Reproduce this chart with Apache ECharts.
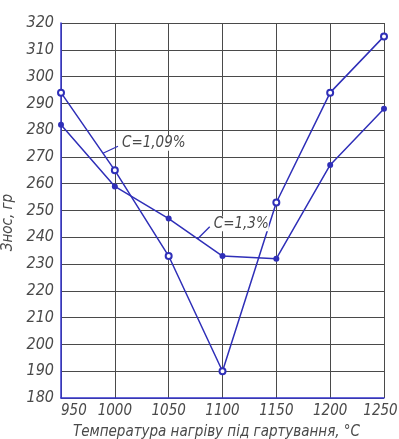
<!DOCTYPE html>
<html>
<head>
<meta charset="utf-8">
<script src="https://cdn.jsdelivr.net/npm/echarts@6/dist/echarts.min.js"></script>
<style>
  html, body { margin: 0; padding: 0; background: #fff; }
  #chart { width: 399px; height: 439px; }
</style>
</head>
<body>
<div id="chart"></div>
<script>
// Hardening temperature, °C
const temperatures = [950, 1000, 1050, 1100, 1150, 1200, 1250];
// Wear, g — steel with C = 1,09 %
const wear109 = [294, 265, 233, 190, 253, 294, 315];
// Wear, g — steel with C = 1,3 %
const wear13 = [282, 259, 247, 233, 232, 267, 288];

const seriesNames = ['C=1,09%', 'C=1,3%'];
const xTitle = 'Температура нагріву під гартування, °C';
const yTitle = 'Знос, гр';

const FONT = "'DejaVu Sans', sans-serif";
// font-stretch keyword goes into the canvas font shorthand via fontWeight
const STRETCH = 'condensed';
const BLUE = '#2f2fb8';
const AXIS_BLUE = '#3434d0';
const GRID = '#4a4a4a';
const TEXT = '#4a4a4a';

function txt(size) {
  return { fontFamily: FONT, fontStyle: 'italic', fontWeight: STRETCH, fontSize: size, color: TEXT };
}

const chart = echarts.init(document.getElementById('chart'));

function pairs(xs, ys) { return xs.map((x, i) => [x, ys[i]]); }

const xMax = temperatures[temperatures.length - 1];

chart.setOption({
  animation: false,
  grid: { left: 61, right: 15, top: 23, bottom: 41, outerBoundsMode: 'none', containLabel: false },
  xAxis: {
    type: 'value', min: 950, max: 1250, interval: 50,
    name: xTitle, nameLocation: 'middle', nameGap: 27,
    nameTextStyle: Object.assign(txt(15), { padding: [0, 12, 0, 0] }),
    axisLine: { show: true, lineStyle: { color: AXIS_BLUE, width: 1.5 } },
    axisTick: { show: false },
    axisLabel: Object.assign(txt(15), {
      margin: 6, showMinLabel: true, showMaxLabel: true, hideOverlap: false,
      alignMinLabel: 'left',
      // a small trailing spacer nudges the last label left, inside the page
      formatter: v => (v === xMax ? '{v|' + v + '}{sp| }' : '{v|' + v + '}'),
      rich: { v: txt(15), sp: { width: 7, fontSize: 15 } }
    }),
    splitLine: { show: true, lineStyle: { color: GRID, width: 1 } }
  },
  yAxis: {
    type: 'value', min: 180, max: 320, interval: 10,
    name: yTitle, nameLocation: 'middle', nameGap: 44, nameRotate: 90,
    nameTextStyle: Object.assign(txt(15), { padding: [0, 24, 0, 0] }),
    axisLine: { show: true, lineStyle: { color: AXIS_BLUE, width: 1.5 } },
    axisTick: { show: false },
    axisLabel: Object.assign(txt(16), { margin: 7, formatter: v => String(v) }),
    splitLine: { show: true, lineStyle: { color: GRID, width: 1 } }
  },
  series: [
    {
      name: seriesNames[0], type: 'line', data: pairs(temperatures, wear109),
      symbol: 'emptyCircle', symbolSize: 6,
      lineStyle: { color: BLUE, width: 1.5 },
      itemStyle: { color: BLUE, borderWidth: 1.5 }
    },
    {
      name: seriesNames[1], type: 'line', data: pairs(temperatures, wear13),
      symbol: 'circle', symbolSize: 6,
      lineStyle: { color: BLUE, width: 1.5 },
      itemStyle: { color: BLUE }
    }
  ]
});

// Leader-line labels: anchored on a curve at a given temperature,
// then offset to the text in pixels.
const labelTemps = [989, 1077];
const labelSeries = [wear109, wear13];
const labelOffsets = [[15, -7], [12, -12]];

function curveAt(ys, t) {
  for (let i = 0; i < temperatures.length - 1; i++) {
    const a = temperatures[i], b = temperatures[i + 1];
    if (t >= a && t <= b) return ys[i] + (ys[i + 1] - ys[i]) * (t - a) / (b - a);
  }
  return ys[ys.length - 1];
}

const graphics = [];
labelTemps.forEach((t, k) => {
  const p = chart.convertToPixel({ gridIndex: 0 }, [t, curveAt(labelSeries[k], t)]);
  const q = [p[0] + labelOffsets[k][0], p[1] + labelOffsets[k][1]];
  graphics.push({
    type: 'line', shape: { x1: p[0], y1: p[1], x2: q[0], y2: q[1] },
    style: { stroke: BLUE, lineWidth: 1.3 }, z: 10
  });
  graphics.push({
    type: 'text', x: q[0] + 4, y: q[1] - 3,
    style: {
      text: seriesNames[k], fill: TEXT, fontFamily: FONT, fontStyle: 'italic', fontWeight: STRETCH,
      fontSize: 15, verticalAlign: 'middle', backgroundColor: '#fff'
    }, z: 10
  });
});
chart.setOption({ graphic: graphics });
</script>
</body>
</html>
